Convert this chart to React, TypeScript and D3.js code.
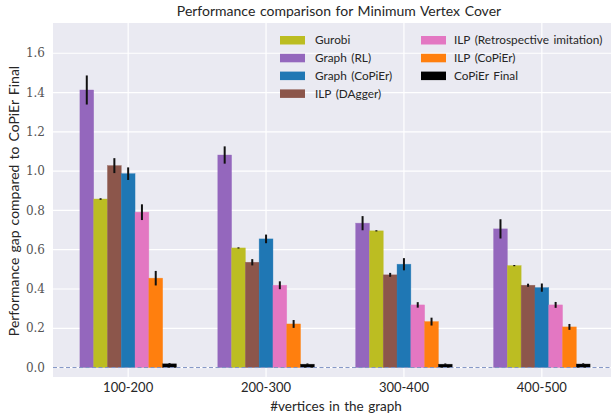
import React from "react";
import * as d3 from "d3";

const categories = ["100-200", "200-300", "300-400", "400-500"];
const seriesNames = [
  "Graph (RL)",
  "Gurobi",
  "ILP (DAgger)",
  "Graph (CoPiEr)",
  "ILP (Retrospective imitation)",
  "ILP (CoPiEr)",
  "CoPiEr Final",
];
const seriesColors = ["#9467bd", "#bcbd22", "#8c564b", "#1f77b4", "#e377c2", "#ff7f0e", "#000000"];
const graphRL = [1.413, 1.082, 0.735, 0.706];
const graphRLErr = [0.074, 0.044, 0.036, 0.049];
const gurobi = [0.858, 0.609, 0.696, 0.519];
const gurobiErr = [0.004, 0.003, 0.003, 0.003];
const ilpDagger = [1.028, 0.536, 0.472, 0.419];
const ilpDaggerErr = [0.038, 0.016, 0.01, 0.008];
const graphCopier = [0.987, 0.655, 0.526, 0.407];
const graphCopierErr = [0.032, 0.022, 0.031, 0.021];
const ilpRetro = [0.791, 0.419, 0.319, 0.319];
const ilpRetroErr = [0.04, 0.02, 0.014, 0.015];
const ilpCopier = [0.455, 0.222, 0.234, 0.207];
const ilpCopierErr = [0.037, 0.02, 0.02, 0.015];
const copierFinal = [0.019, 0.017, 0.017, 0.018];
const copierFinalErr = [0.004, 0.004, 0.004, 0.004];
const yTicks = [0, 0.2, 0.4, 0.6, 0.8, 1.0, 1.2, 1.4, 1.6];
const legendCol1 = ["Gurobi", "Graph (RL)", "Graph (CoPiEr)", "ILP (DAgger)"];
const legendCol2 = ["ILP (Retrospective imitation)", "ILP (CoPiEr)", "CoPiEr Final"];

const seriesValues = [graphRL, gurobi, ilpDagger, graphCopier, ilpRetro, ilpCopier, copierFinal];
const seriesErrs = [graphRLErr, gurobiErr, ilpDaggerErr, graphCopierErr, ilpRetroErr, ilpCopierErr, copierFinalErr];

const W = 611;
const H = 418;
const left = 53;
const right = 617;
const top = 23;
const bottom = 377;
const sans = "Lato, 'Open Sans', sans-serif";
const serif = "'DejaVu Serif', serif";

export default function App() {
  const x = d3.scaleLinear().domain([-0.545, 3.545]).range([left, right]);
  const y = d3.scaleLinear().domain([-0.048, 1.754]).range([bottom, top]);
  const bw = 0.1;
  const colorOf = (name: string) => seriesColors[seriesNames.indexOf(name)];
  return (
    <svg width={W} height={H} style={{ display: "block", position: "absolute", left: 0, top: 0 }}>
      <defs>
        <clipPath id="plot">
          <rect x={left} y={top} width={right - left} height={bottom - top} />
        </clipPath>
      </defs>
      <rect x={0} y={0} width={W} height={H} fill="#ffffff" />
      <rect x={left} y={top} width={right - left} height={bottom - top} fill="#eaeaf2" />
      <g clipPath="url(#plot)">
        {yTicks.map((t) => (
          <line key={t} x1={left} x2={right} y1={y(t)} y2={y(t)} stroke="#ffffff" strokeWidth={1.2} />
        ))}
        {categories.map((c, i) => (
          <line key={c} x1={x(i)} x2={x(i)} y1={top} y2={bottom} stroke="#ffffff" strokeWidth={1.2} />
        ))}
        {seriesValues.map((vals, s) =>
          vals.map((v, i) => {
            const cx = i + (s - 3) * bw;
            return (
              <rect
                key={`${s}-${i}`}
                x={x(cx - bw / 2)}
                y={y(v)}
                width={x(cx + bw / 2) - x(cx - bw / 2)}
                height={y(0) - y(v)}
                fill={seriesColors[s]}
                stroke={seriesColors[s]}
                strokeOpacity={0.6}
                strokeWidth={0.6}
              />
            );
          })
        )}
        {seriesValues.map((vals, s) =>
          vals.map((v, i) => {
            const cx = i + (s - 3) * bw;
            const e = seriesErrs[s][i];
            return (
              <line
                key={`e${s}-${i}`}
                x1={x(cx)}
                x2={x(cx)}
                y1={y(v - e)}
                y2={y(v + e)}
                stroke="#111"
                strokeWidth={2}
              />
            );
          })
        )}
        <line x1={left} x2={right} y1={y(0)} y2={y(0)} stroke="#7f93c4" strokeWidth={1} strokeDasharray="4,2.5" />
      </g>
      {yTicks.map((t) => (
        <text key={t} x={45} y={y(t)} dy="0.35em" textAnchor="end" fontFamily={serif} fontSize={12} fill="#555">
          {t.toFixed(1)}
        </text>
      ))}
      {categories.map((c, i) => (
        <text key={c} x={x(i)} y={392} textAnchor="middle" fontFamily={sans} fontSize={13} fill="#262626">
          {c}
        </text>
      ))}
      <text x={336} y={411} textAnchor="middle" fontFamily={sans} fontSize={13.5} fill="#262626" wordSpacing={1}>
        #vertices in the graph
      </text>
      <text
        transform={`translate(19,${201}) rotate(-90)`}
        textAnchor="middle"
        fontFamily={sans}
        fontSize={14}
        fill="#262626"
        wordSpacing={1.5}
      >
        Performance gap compared to CoPiEr Final
      </text>
      <text x={339} y={16} textAnchor="middle" fontFamily={sans} fontSize={14} fill="#262626" wordSpacing={1}>
        Performance comparison for Minimum Vertex Cover
      </text>
      {legendCol1.map((name, k) => (
        <g key={name} transform={`translate(280,${40 + k * 17.8})`}>
          <rect x={0} y={-4} width={25} height={8.5} fill={colorOf(name)} />
          <text x={35} y={0} dy="0.35em" fontFamily={sans} fontSize={11.8} fill="#262626" wordSpacing={1.5}>
            {name}
          </text>
        </g>
      ))}
      {legendCol2.map((name, k) => (
        <g key={name} transform={`translate(421,${40 + k * 17.8})`}>
          <rect x={0} y={-4} width={25} height={8.5} fill={colorOf(name)} />
          <text x={33} y={0} dy="0.35em" fontFamily={sans} fontSize={11.8} fill="#262626" wordSpacing={1.5}>
            {name}
          </text>
        </g>
      ))}
    </svg>
  );
}
